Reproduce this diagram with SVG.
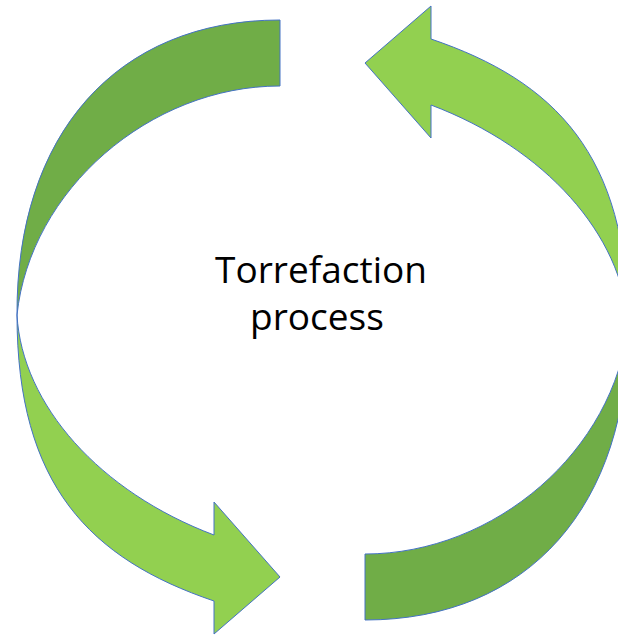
<svg xmlns="http://www.w3.org/2000/svg" width="618" height="635" viewBox="0 0 618 635">
  <style>
    .dark { fill: #70AD47; stroke: #4472C4; stroke-width: 1; stroke-linejoin: miter; }
    .light { fill: #92D050; stroke: #4472C4; stroke-width: 1; stroke-linejoin: miter; }
    .label { font-family: "Open Sans", "Liberation Sans", sans-serif; font-size: 37px; fill: #000000; text-anchor: middle; }
  </style>
  <defs>
    <g id="arrowShape">
      <path class="dark" d="M280,20 C116,20 16,135 17,315 C30,190 150,86 280,86 Z"/>
      <path class="light" d="M17,315 C17,485 90,559 214,601 L214,634 L280,577 L214,502 L214,535 C100,492 22,405 17,315 Z"/>
    </g>
  </defs>
  <rect width="618" height="635" fill="#FFFFFF"/>
  <g id="arrow-left">
    <use href="#arrowShape"/>
  </g>
  <g id="arrow-right">
    <use href="#arrowShape" transform="rotate(180 322.5 320)"/>
  </g>
  <g id="label">
    <text class="label" x="321" y="283">Torrefaction</text>
    <text class="label" x="317" y="330">process</text>
  </g>
</svg>
